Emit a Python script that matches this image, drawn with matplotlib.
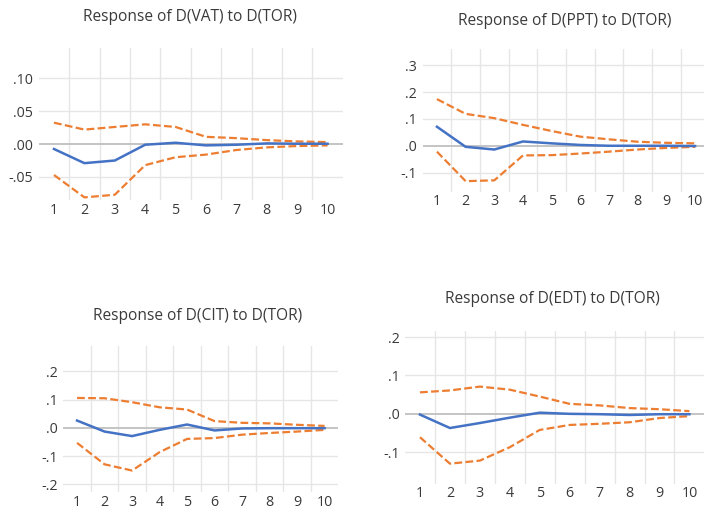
import matplotlib
matplotlib.use("Agg")
import matplotlib.pyplot as plt

periods = list(range(1, 11))

vat_resp = [-0.0075, -0.029, -0.025, -0.001, 0.002, -0.002, -0.001, 0.001, 0.0005, 0.0005]
vat_up = [0.0325, 0.022, 0.026, 0.030, 0.026, 0.011, 0.009, 0.006, 0.004, 0.003]
vat_lo = [-0.047, -0.081, -0.077, -0.032, -0.020, -0.016, -0.009, -0.005, -0.003, -0.002]

ppt_resp = [0.071, -0.004, -0.014, 0.016, 0.009, 0.003, 0.0, 0.0, 0.0, -0.001]
ppt_up = [0.174, 0.119, 0.103, 0.078, 0.055, 0.034, 0.024, 0.015, 0.011, 0.009]
ppt_lo = [-0.022, -0.132, -0.129, -0.036, -0.035, -0.029, -0.022, -0.014, -0.008, -0.004]

cit_resp = [0.026, -0.013, -0.029, -0.007, 0.012, -0.009, -0.002, -0.001, -0.001, -0.001]
cit_up = [0.106, 0.105, 0.091, 0.073, 0.065, 0.024, 0.018, 0.016, 0.011, 0.007]
cit_lo = [-0.053, -0.129, -0.151, -0.086, -0.039, -0.036, -0.024, -0.018, -0.013, -0.007]

edt_resp = [-0.002, -0.037, -0.024, -0.010, 0.003, 0.0, -0.001, -0.003, -0.001, -0.001]
edt_up = [0.056, 0.061, 0.071, 0.063, 0.045, 0.026, 0.022, 0.015, 0.012, 0.007]
edt_lo = [-0.061, -0.130, -0.122, -0.087, -0.042, -0.029, -0.026, -0.022, -0.011, -0.006]

titles = ["Response of D(VAT) to D(TOR)", "Response of D(PPT) to D(TOR)",
          "Response of D(CIT) to D(TOR)", "Response of D(EDT) to D(TOR)"]
yticks_list = [[-0.05, 0.0, 0.05, 0.10], [-0.1, 0.0, 0.1, 0.2, 0.3],
               [-0.2, -0.1, 0.0, 0.1, 0.2], [-0.1, 0.0, 0.1, 0.2]]
ytick_labels = [["-.05", ".00", ".05", ".10"], ["-.1", ".0", ".1", ".2", ".3"],
                ["-.2", "-.1", ".0", ".1", ".2"], ["-.1", ".0", ".1", ".2"]]
ylims = [(-0.085, 0.146), (-0.1725, 0.361), (-0.227, 0.29), (-0.183, 0.216)]

series = [(vat_resp, vat_up, vat_lo), (ppt_resp, ppt_up, ppt_lo),
          (cit_resp, cit_up, cit_lo), (edt_resp, edt_up, edt_lo)]

W, H = 704, 509
# axes boxes in pixels: left, right, top, bottom
boxes = [(38.8, 342.8, 48, 200), (422.6, 709.4, 49, 192),
         (63.3, 338.3, 346, 492), (405.0, 704.4, 331, 484)]
title_pos = [(190, 17), (565, 21), (198, 316), (552, 299)]
xpads = [2.2, 1.5, 1.8, 1.5]

plt.rcParams['font.family'] = ['Open Sans', 'DejaVu Sans']
fig = plt.figure(figsize=(W / 100, H / 100), dpi=100)

blue = "#4472C4"
orange = "#ED7D31"
txt = "#3A3A3A"

for i in range(4):
    l, r, t, b = boxes[i]
    ax = fig.add_axes([l / W, 1 - b / H, (r - l) / W, (b - t) / H])
    resp, up, lo = series[i]
    ax.set_xlim(0.5, 10.5)
    ax.set_ylim(*ylims[i])
    for xv in [k + 0.5 for k in range(1, 10)]:
        ax.axvline(xv, color="#E6E6E6", lw=1.0, zorder=0)
    for yv in yticks_list[i]:
        if yv == 0:
            ax.axhline(0, color="#C4C4C4", lw=1.4, zorder=1)
        else:
            ax.axhline(yv, color="#E6E6E6", lw=1.0, zorder=0)
    ax.plot(periods, up, color=orange, lw=1.6, ls=(0, (3.5, 1.5)), zorder=3)
    ax.plot(periods, lo, color=orange, lw=1.6, ls=(0, (3.5, 1.5)), zorder=3)
    ax.plot(periods, resp, color=blue, lw=1.8, zorder=4)
    ax.set_xticks(periods)
    ax.set_xticklabels([str(p) for p in periods])
    ax.set_yticks(yticks_list[i])
    ax.set_yticklabels(ytick_labels[i])
    ax.tick_params(axis="both", length=0, labelsize=10.3, colors=txt)
    ax.tick_params(axis="x", pad=xpads[i])
    ax.tick_params(axis="y", pad=4)
    for s in ax.spines.values():
        s.set_visible(False)
    ax.patch.set_alpha(0)
    tx, ty = title_pos[i]
    fig.text(tx / W, 1 - ty / H, titles[i], ha="center", va="center",
             fontsize=11.2, color=txt)

fig.savefig("out.png", dpi=100)
